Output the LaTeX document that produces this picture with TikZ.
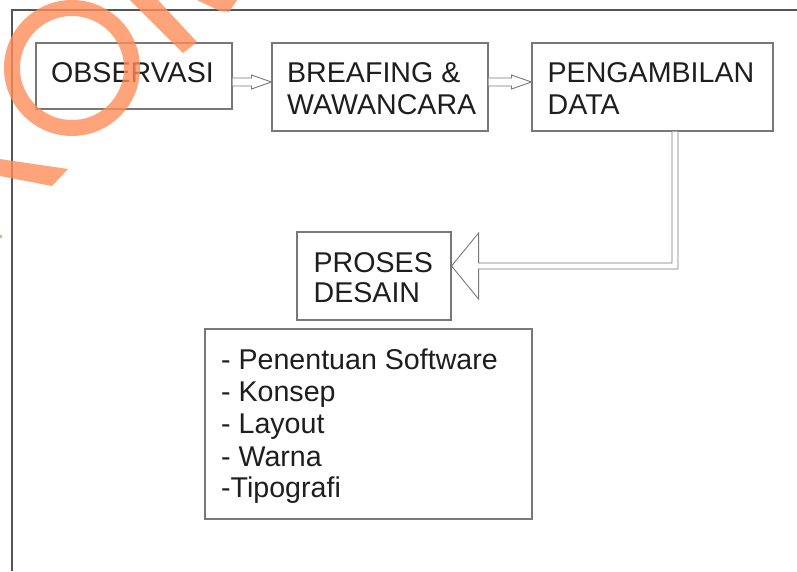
\documentclass[tikz,border=0pt]{standalone}
\usepackage{fontspec}
\setmainfont{Liberation Sans}
\usetikzlibrary{calc}
\definecolor{boxgray}{RGB}{120,120,120}
\definecolor{framegray}{RGB}{85,85,85}
\definecolor{textgray}{RGB}{30,30,30}
\definecolor{wmorange}{RGB}{255,140,90}
\newcommand\diagfont{\fontsize{28.6}{32.5}\selectfont}
\tikzset{
  box/.style={draw=boxgray, line width=1.1pt, fill=white, inner sep=0pt},
  txt/.style={font=\diagfont, text=textgray, inner sep=0pt, anchor=base west},
  harrow/.style={draw=boxgray, line width=0.9pt, fill=white, line join=miter},
  wm/.style={fill=wmorange, draw=none, opacity=0.8},
}
\begin{document}
\begin{tikzpicture}[x=1pt, y=-1pt]
\useasboundingbox (0,0) rectangle (797,571);
% frame
\draw[framegray, line width=1.2pt] (797,10) -- (12,10) -- (12,571);
% boxes
\node[box, minimum width=196pt, minimum height=66pt] (obs) at (134,76) {};
\node[box, minimum width=216pt, minimum height=88pt] (brief) at (380,87) {};
\node[box, minimum width=241pt, minimum height=88pt] (peng) at (652.5,87) {};
\node[box, minimum width=154pt, minimum height=88pt] (pros) at (374,276) {};
\node[box, minimum width=327pt, minimum height=190pt] (list) at (368.5,424) {};
% texts
\node[txt] (obs1) at ($(obs.north west)+(15.5,40)$) {OBSERVASI};
\node[txt] (brief1) at ($(brief.north west)+(15.5,40)$) {BREAFING \&};
\node[txt] (brief2) at ($(brief.north west)+(15.5,72)$) {WAWANCARA};
\node[txt] (peng1) at ($(peng.north west)+(16,40)$) {PENGAMBILAN};
\node[txt] (peng2) at ($(peng.north west)+(16,72)$) {DATA};
\node[txt] (pros1) at ($(pros.north west)+(17,41)$) {PROSES};
\node[txt] (pros2) at ($(pros.north west)+(17,71)$) {DESAIN};
\node[txt] (l1) at ($(list.north west)+(16.5,41)$) {- Penentuan Software};
\node[txt] (l2) at ($(list.north west)+(16.5,73)$) {- Konsep};
\node[txt] (l3) at ($(list.north west)+(16.5,105.5)$) {- Layout};
\node[txt] (l4) at ($(list.north west)+(16.5,138)$) {- Warna};
\node[txt] (l5) at ($(list.north west)+(16.5,169.5)$) {-Tipografi};
% small hollow arrows
\coordinate (ay) at (0,82);
\draw[harrow] ($(obs.east|-ay)+(0,-4)$) -- ($(brief.west|-ay)+(-20,-4)$) -- ($(brief.west|-ay)+(-20,-7)$)
  -- (brief.west|-ay) -- ($(brief.west|-ay)+(-20,7)$) -- ($(brief.west|-ay)+(-20,4)$)
  -- ($(obs.east|-ay)+(0,4)$);
\draw[harrow] ($(brief.east|-ay)+(0,-4)$) -- ($(peng.west|-ay)+(-20,-4)$) -- ($(peng.west|-ay)+(-20,-7)$)
  -- (peng.west|-ay) -- ($(peng.west|-ay)+(-20,7)$) -- ($(peng.west|-ay)+(-20,4)$)
  -- ($(brief.east|-ay)+(0,4)$);
% big hollow arrow
\coordinate (bv) at ($(peng.south)+(22.5,0)$);
\coordinate (tip) at ($(pros.east)+(0,-10)$);
\draw[harrow] ($(bv)+(-3,0)$) -- ($(bv|-tip)+(-3,-3)$) -- ($(tip)+(27,-3)$) -- ($(tip)+(27,-33)$)
  -- (tip) -- ($(tip)+(27,33)$) -- ($(tip)+(27,3)$) -- ($(bv|-tip)+(3,3)$) -- ($(bv)+(3,0)$);
% watermark fragments
\draw[wmorange, opacity=0.8, line width=16pt] (72,68) circle[radius=60];
\fill[wm] (130,0) -- (158,0) -- (197,42) -- (183,53) -- cycle;
\fill[wm] (197,0) -- (237,0) -- (229,12) -- (220,11) -- cycle;
\fill[wm] (0,159) -- (68,169) -- (52,186) -- (0,176) -- cycle;
\fill[wm] (0,235) rectangle (2,238);
\end{tikzpicture}
\end{document}
